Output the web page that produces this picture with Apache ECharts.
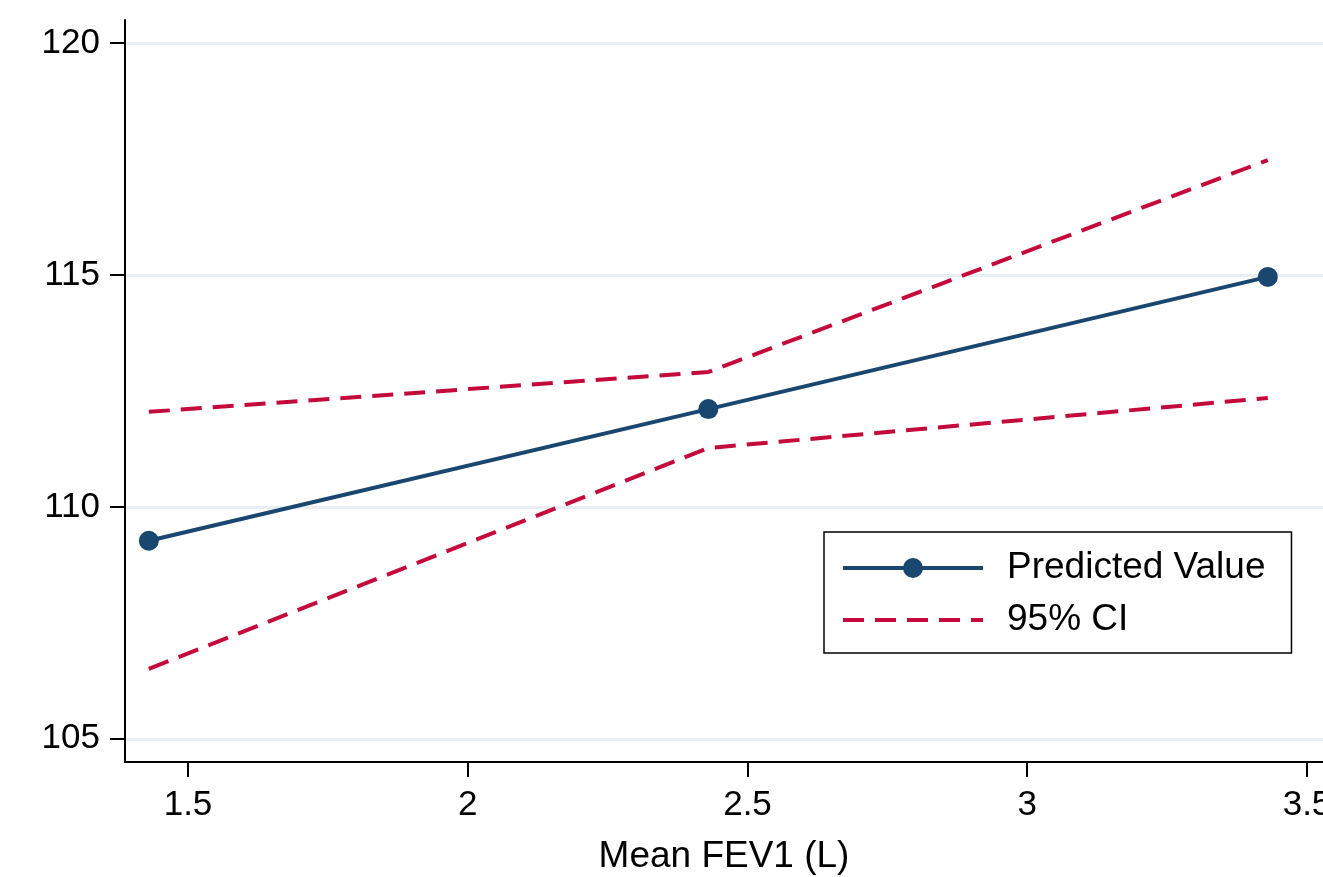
<!DOCTYPE html>
<html><head><meta charset="utf-8">
<script src="https://cdn.jsdelivr.net/npm/echarts@6/dist/echarts.min.js"></script>
<style>html,body{margin:0;padding:0;background:#fff}#c{width:1323px;height:877px}</style>
</head><body><div id="c"></div>
<script>
const fev1 = [1.43, 2.43, 3.43];
const predicted = [109.27, 112.11, 114.96];
const ciUpper = [112.05, 112.91, 117.48];
const ciLower = [106.51, 111.27, 112.35];
const xTicks = [1.5, 2, 2.5, 3, 3.5];
const yTicks = [105, 110, 115, 120];

const NAVY = '#1a476f', RED = '#c40a3b';
const pts = ys => fev1.map((x, i) => [x, ys[i]]);
const font = 'Liberation Sans, Arial, sans-serif';
const chart = echarts.init(document.getElementById('c'));
chart.setOption({
  animation: false,
  backgroundColor: '#fff',
  grid: { left: 125, right: 0, top: 20, bottom: 115, containLabel: false, outerBoundsMode: 'none' },
  xAxis: {
    type: 'value', min: 1.3874, max: 3.5286,
    name: 'Mean FEV1 (L)', nameLocation: 'middle', nameGap: 76,
    nameTextStyle: { fontFamily: font, fontSize: 37, color: '#000' },
    axisLine: { show: true, onZero: false, lineStyle: { color: '#000', width: 2 } },
    axisTick: { show: true, length: 15, customValues: xTicks, lineStyle: { color: '#000', width: 2 } },
    axisLabel: { customValues: xTicks, margin: 26, fontFamily: font, fontSize: 35, color: '#000',
      formatter: v => String(v) },
    splitLine: { show: false }
  },
  yAxis: {
    type: 'value', min: 104.5, max: 120.5,
    axisLine: { show: true, lineStyle: { color: '#000', width: 2 } },
    axisTick: { show: true, length: 15, customValues: yTicks, lineStyle: { color: '#000', width: 2 } },
    axisLabel: { customValues: yTicks, margin: 25, fontFamily: font, fontSize: 35, color: '#000' },
    splitLine: { show: true, lineStyle: { color: '#e8eff2', width: 3 } }
  },
  legend: {
    orient: 'vertical', left: 824, top: 532,
    padding: [16, 26, 13, 17],
    itemWidth: 140, itemHeight: 25, itemGap: 12,
    borderColor: '#000', borderWidth: 1.5, backgroundColor: '#fff',
    lineStyle: { width: 4 },
    textStyle: { fontFamily: font, fontSize: 37, color: '#000', padding: [0, 0, 0, 19], lineHeight: 40 },
    data: ['Predicted Value', '95% CI']
  },
  series: [
    { name: 'Predicted Value', type: 'line', data: pts(predicted), symbol: 'circle', symbolSize: 20,
      showAllSymbol: true, z: 3,
      lineStyle: { color: NAVY, width: 4 }, itemStyle: { color: NAVY } },
    { name: '95% CI', type: 'line', data: pts(ciUpper), symbol: 'none', z: 2,
      lineStyle: { color: RED, width: 4, type: [21, 11] }, itemStyle: { color: 'rgba(0,0,0,0)' } },
    { name: '95% CI', type: 'line', data: pts(ciLower), symbol: 'none', z: 2,
      lineStyle: { color: RED, width: 4, type: [21, 11] }, itemStyle: { color: 'rgba(0,0,0,0)' } }
  ]
});
</script></body></html>
